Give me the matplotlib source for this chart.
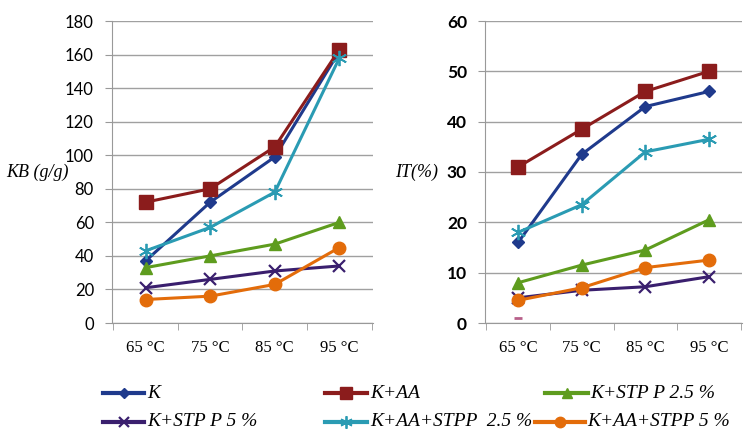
import matplotlib
matplotlib.use("Agg")
import matplotlib.pyplot as plt
from matplotlib.ticker import FixedLocator
from matplotlib.lines import Line2D

categories = ["65 °C", "75 °C", "85 °C", "95 °C"]
series_names = ["K", "K+AA", "K+STP P 2.5 %", "K+STP P 5 %", "K+AA+STPP  2.5 %", "K+AA+STPP 5 %"]

kb_k = [37, 72, 99, 162]
kb_k_aa = [72, 80, 105, 163]
kb_stpp25 = [33, 40, 47, 60]
kb_stpp5 = [21, 26, 31, 34]
kb_aa_stpp25 = [43, 57, 78, 158]
kb_aa_stpp5 = [14, 16, 23, 45]

it_k = [16, 33.5, 43, 46]
it_k_aa = [31, 38.5, 46, 50]
it_stpp25 = [8, 11.5, 14.5, 20.5]
it_stpp5 = [5, 6.5, 7.2, 9.2]
it_aa_stpp25 = [18, 23.5, 34, 36.5]
it_aa_stpp5 = [4.5, 7, 11, 12.5]
it_stray_mark = [1.0]

kb_ticks = [0, 20, 40, 60, 80, 100, 120, 140, 160, 180]
it_ticks = [0, 10, 20, 30, 40, 50, 60]

colors = ["#1f3a8c", "#8b1c1c", "#5e9c1e", "#3a1f6e", "#2a9bb3", "#e36c0a"]
markers = ["D", "s", "^", "x", (6, 2, 0), "o"]
msizes = [6.5, 10, 9, 9, 11, 9]
leg_msizes = [5, 8.5, 7.5, 7, 9, 7.5]

W, H = 748, 434
fig = plt.figure(figsize=(W / 100, H / 100), dpi=100)
ax1 = fig.add_axes([112 / W, 1 - 323 / H, (373 - 112) / W, (323 - 21) / H])
ax2 = fig.add_axes([485 / W, 1 - 323 / H, (742 - 485) / W, (323 - 21) / H])

x = list(range(len(categories)))
kb_data = [kb_k, kb_k_aa, kb_stpp25, kb_stpp5, kb_aa_stpp25, kb_aa_stpp5]
it_data = [it_k, it_k_aa, it_stpp25, it_stpp5, it_aa_stpp25, it_aa_stpp5]

def style(i, ms):
    m = markers[i]
    d = dict(color=colors[i], marker=m, ms=ms)
    if m in ("x",) or isinstance(m, tuple):
        d["mew"] = 1.6 if m == "x" else 1.3
    else:
        d["mfc"] = colors[i]
        d["mec"] = colors[i]
    return d

for i, d in enumerate(kb_data):
    ax1.plot(x, d, lw=2.2, **style(i, msizes[i]))
for i, d in enumerate(it_data):
    ax2.plot(x, d, lw=2.2, **style(i, msizes[i]))
ax2.plot([0], it_stray_mark, marker="_", ms=6, mew=2, color="#b8608a", ls="none")

serif = "Liberation Serif"
for ax, ticks in [(ax1, kb_ticks), (ax2, it_ticks)]:
    ax.set_xlim(-0.52, 3.52)
    ax.set_ylim(ticks[0], ticks[-1])
    ax.set_yticks(ticks)
    ax.set_xticks(x)
    ax.set_xticklabels(categories, fontfamily=serif, fontsize=12)
    ax.xaxis.set_minor_locator(FixedLocator([-0.5, 0.5, 1.5, 2.5, 3.5]))
    ax.tick_params(axis="x", which="major", length=0, pad=12)
    ax.tick_params(axis="x", which="minor", length=5, color="#999999", direction="out")
    ax.tick_params(axis="y", length=5, color="#999999", direction="out", pad=8)
    ax.grid(axis="y", color="#a0a0a0", lw=1)
    ax.set_axisbelow(True)
    for s in ["top", "right"]:
        ax.spines[s].set_visible(False)
    ax.spines["left"].set_color("#999999")
    ax.spines["bottom"].set_color("#999999")

ax1.set_ylabel("KB (g/g)", fontfamily=serif, fontstyle="italic", fontsize=13,
               rotation=0, va="center", ha="center")
ax1.yaxis.set_label_coords(-(112 - 37) / 261, 0.5)
ax2.set_ylabel("IT(%)", fontfamily=serif, fontstyle="italic", fontsize=13,
               rotation=0, va="center", ha="center")
ax2.yaxis.set_label_coords(-(485 - 417) / 257, 0.5)

for lab in ax1.get_yticklabels():
    lab.set_fontfamily("Lato")
    lab.set_fontsize(12)
for lab in ax2.get_yticklabels():
    lab.set_fontfamily("Lato")
    lab.set_fontweight("bold")
    lab.set_fontsize(12.5)

# legend entries: (handle start px, handle end px, text start px, row y px)
leg_pos = [
    (103, 144, 147, 393),   # K
    (325, 367, 370, 393),   # K+AA
    (545, 588, 590, 393),   # K+STPP 2.5
    (103, 144, 147, 422),   # K+STPP 5
    (325, 367, 370, 422),   # K+AA+STPP 2.5
    (535, 585, 587, 422),   # K+AA+STPP 5
]
for i, (x0, x1, xt, yp) in enumerate(leg_pos):
    yf = 1 - yp / H
    fig.add_artist(Line2D([x0 / W, x1 / W], [yf, yf], transform=fig.transFigure,
                          color=colors[i], lw=3))
    fig.add_artist(Line2D([(x0 + x1) / 2 / W], [yf], transform=fig.transFigure,
                          ls="none", **style(i, leg_msizes[i])))
    fig.text(xt / W, yf, series_names[i], fontfamily=serif, fontstyle="italic",
             fontsize=14, va="center", ha="left")

fig.savefig("out.png", dpi=100)
